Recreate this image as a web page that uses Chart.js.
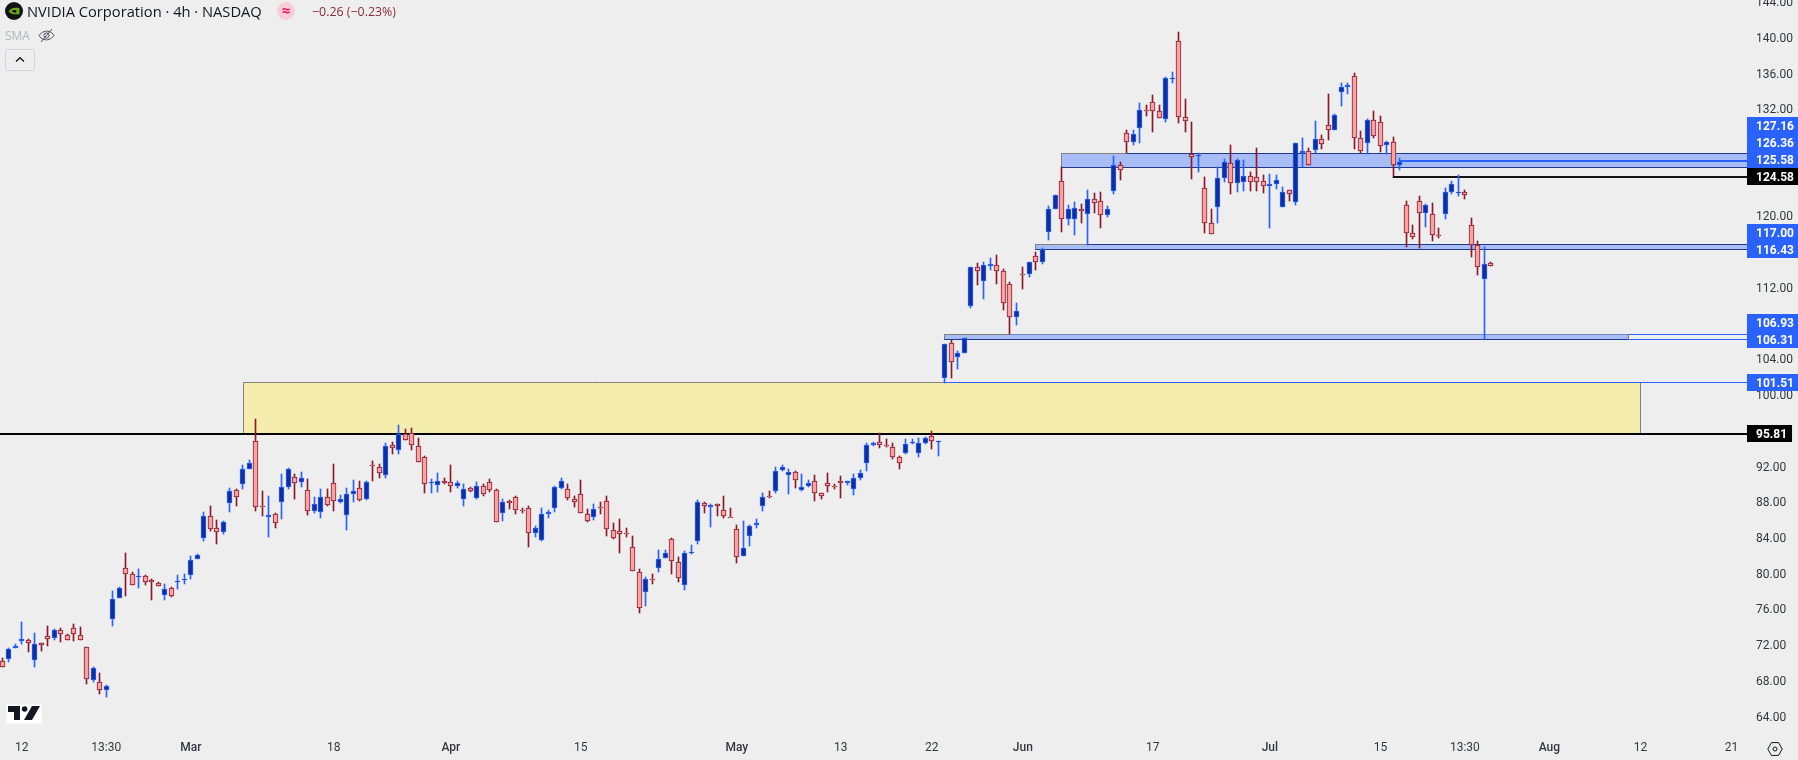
<!DOCTYPE html>
<html>
<head>
<meta charset="utf-8">
<title>NVIDIA Corporation 4h</title>
<script src="https://cdn.jsdelivr.net/npm/chart.js@4/dist/chart.umd.min.js"></script>
<style>
    html, body { margin: 0; padding: 0; background: #eeeeee; overflow: hidden; }
    #wrap { position: relative; width: 1798px; height: 760px; font-family: "Open Sans", sans-serif; }
    canvas { display: block; }
    .abs { position: absolute; white-space: nowrap; }
    #title { left: 27px; top: 0px; font-size: 14.7px; line-height: 22px; color: #131722; }
    #trend { left: 277px; top: 2px; width: 18px; height: 18px; border-radius: 50%; background: #f6cdd8; color: #e91e63; font-size: 15px; line-height: 17px; text-align: center; font-weight: 700; }
    #change { left: 312px; top: 1px; font-size: 12.4px; line-height: 22px; color: #8c2a3a; }
    #sma { left: 5px; top: 27px; font-size: 12px; line-height: 18px; color: #b2b5be; }
    #collapse { left: 5px; top: 49px; width: 28px; height: 20px; border: 1px solid #d1d4dc; border-radius: 3px; }
</style>
</head>
<body>
<div id="wrap">
    <canvas id="priceChart" width="1798" height="760"></canvas>
    <svg class="abs" style="left:5px;top:2px" width="18" height="18" viewBox="0 0 18 18">
        <circle cx="9" cy="9" r="9" fill="#0f1413"/>
        <path d="M3.5 9.5 C6 5.8 10 5.2 14.5 6.2 L14.5 12.3 L8.5 12.3 C6.5 12 5 11 3.5 9.5Z" fill="#6fa51a"/>
        <path d="M6.5 9.3 C8 8 10 7.8 11.7 8.5 L11 10.6 C9.3 10.8 8 10.4 6.5 9.3Z" fill="#0f1413"/>
    </svg>
    <div class="abs" id="title">NVIDIA Corporation · 4h · NASDAQ</div>
    <div class="abs" id="trend">≈</div>
    <div class="abs" id="change">−0.26 (−0.23%)</div>
    <div class="abs" id="sma">SMA</div>
    <svg class="abs" style="left:38px;top:27px" width="17" height="17" viewBox="0 0 17 17" fill="none" stroke="#4a4e59" stroke-width="1">
        <path d="M1 8.5 C4 4.5 8 3.5 11 4.5 C13 5 15 6.5 16 8.5 C13 12.5 9 13.5 6 12.5 C4 12 2 10.5 1 8.5Z"/>
        <circle cx="8.5" cy="8.5" r="2.6"/>
        <path d="M3 15 L14 2"/>
    </svg>
    <div class="abs" id="collapse">
        <svg style="position:absolute;left:9px;top:6px" width="10" height="7" viewBox="0 0 10 7" fill="none" stroke="#131722" stroke-width="1.4"><path d="M1 5.5 L5 1.8 L9 5.5"/></svg>
    </div>
    <svg class="abs" style="left:6px;top:704px" width="36" height="20" viewBox="0 0 36 20">
        <rect x="0.5" y="0.5" width="35" height="19" fill="#ffffff"/>
        <path d="M2 2 H14 V16 H8 V8 H2Z" fill="#131722"/>
        <circle cx="18.6" cy="5" r="2.8" fill="#131722"/>
        <path d="M26 2 H34 L26 16 H18Z" fill="#131722"/>
    </svg>
    <svg class="abs" style="left:1767px;top:741px" width="16" height="16" viewBox="0 0 16 16" fill="none" stroke="#131722" stroke-width="1">
        <path d="M0.8 8 L4.4 1.6 H11.6 L15.2 8 L11.6 14.4 H4.4Z"/>
        <circle cx="8" cy="8" r="2"/>
    </svg>
</div>

<script>
// values, one entry per 4h candle
const opens = [
    70.38, 70.53, 71.76, 72.62, 72.73, 70.42, 72.32, 73.18, 72.88, 73.85,
    73.29, 74.08, 73.29, 71.95, 68.26, 68.03, 67.06, 75.01, 77.36, 80.79,
    80.05, 79.71, 79.82, 79.37, 79.11, 77.70, 78.48, 79.15, 79.49, 80.01,
    81.72, 84.15, 86.61, 85.27, 84.82, 87.99, 89.45, 90.12, 91.87, 95.01,
    87.66, 86.43, 86.76, 88.10, 89.86, 90.98, 90.34, 89.52, 87.17, 86.99,
    88.74, 90.31, 88.18, 86.65, 89.07, 89.75, 88.44, 92.28, 92.10, 91.13,
    94.48, 94.00, 95.72, 95.83, 94.45, 93.14, 90.23, 90.01, 90.53, 90.34,
    89.90, 88.44, 89.67, 88.55, 89.97, 90.42, 89.45, 86.87, 88.22, 88.66,
    87.25, 87.43, 84.63, 83.93, 86.76, 87.43, 89.75, 89.63, 88.51, 89.07,
    86.84, 86.50, 87.54, 88.29, 85.05, 84.93, 84.63, 83.14, 80.34, 78.11,
    79.52, 80.79, 81.91, 83.96, 81.46, 78.89, 82.47, 83.81, 88.07, 87.62,
    87.88, 87.21, 86.50, 85.16, 82.06, 84.37, 85.53, 87.73, 88.78, 89.41,
    91.69, 91.13, 91.54, 89.45, 89.90, 90.53, 89.19, 90.31, 89.90, 90.45,
    90.23, 89.56, 90.87, 92.47, 94.48, 94.89, 94.48, 94.34, 93.22, 93.66,
    94.82, 93.59, 94.78, 95.49, 94.89, 101.99, 105.90, 104.41, 104.79, 110.12,
    114.41, 112.92, 114.60, 114.64, 113.96, 112.51, 108.89, 113.63, 113.63, 115.64,
    115.05, 118.33, 120.91, 124.04, 119.79, 119.79, 120.91, 120.35, 122.03, 121.80,
    120.24, 123.00, 125.83, 129.41, 128.41, 129.97, 132.03, 132.88, 131.88, 131.06,
    135.53, 139.71, 131.21, 127.10, 126.84, 123.26, 119.34, 121.13, 124.38, 126.06,
    123.82, 124.00, 124.60, 124.49, 124.04, 123.48, 123.71, 121.13, 123.03, 121.69,
    127.18, 127.40, 127.51, 128.74, 130.31, 129.75, 134.00, 134.56, 135.79, 128.85,
    128.29, 130.87, 130.64, 128.07, 128.40, 125.90, 121.35, 118.22, 121.80, 120.46,
    120.35, 118.00, 120.35, 122.81, 122.77, 122.81, 119.11, 116.88, 113.07, 114.86
];
const highs = [
    70.64, 71.84, 72.25, 74.71, 72.81, 73.44, 72.40, 74.26, 73.93, 74.00,
    73.33, 74.49, 74.11, 71.95, 69.67, 68.96, 67.62, 78.14, 78.59, 82.40,
    80.31, 80.61, 79.93, 79.49, 79.22, 78.96, 78.59, 79.97, 80.05, 82.10,
    82.28, 86.99, 87.66, 86.09, 85.98, 89.67, 89.56, 92.25, 92.81, 97.43,
    89.37, 88.81, 86.87, 91.28, 91.91, 91.24, 91.50, 90.68, 88.70, 89.56,
    89.56, 92.40, 88.96, 89.67, 90.60, 90.45, 90.45, 92.69, 92.36, 94.71,
    94.82, 96.76, 96.28, 96.39, 95.27, 93.29, 90.68, 91.39, 90.79, 92.28,
    90.45, 90.12, 89.78, 90.34, 90.12, 90.68, 89.56, 88.44, 88.37, 88.78,
    87.47, 87.69, 85.46, 87.47, 87.21, 89.93, 90.79, 90.12, 88.78, 90.60,
    87.32, 87.88, 88.14, 88.78, 85.75, 86.24, 85.23, 84.30, 80.61, 79.71,
    80.05, 82.77, 82.73, 84.11, 81.99, 82.62, 83.29, 88.37, 88.18, 87.92,
    87.92, 88.78, 87.43, 85.53, 86.02, 85.60, 86.20, 89.11, 89.37, 92.02,
    92.25, 91.80, 91.65, 91.24, 90.57, 91.13, 89.19, 91.39, 90.16, 91.05,
    90.49, 91.24, 91.69, 94.71, 94.82, 95.83, 95.16, 94.71, 93.25, 95.16,
    95.16, 95.27, 95.45, 96.05, 94.93, 105.87, 106.28, 105.05, 106.46, 114.41,
    114.90, 115.01, 115.46, 115.79, 114.22, 112.77, 110.38, 114.45, 114.97, 116.09,
    116.58, 121.24, 122.48, 125.68, 121.36, 121.73, 121.50, 123.07, 122.74, 122.85,
    121.28, 126.88, 126.21, 129.75, 129.75, 132.77, 132.59, 133.71, 132.59, 135.72,
    136.28, 140.72, 133.26, 130.68, 127.18, 124.53, 120.95, 125.65, 126.54, 128.11,
    126.54, 126.43, 125.09, 127.77, 124.75, 124.86, 124.75, 123.37, 123.03, 128.30,
    128.89, 127.77, 130.80, 129.19, 133.82, 131.58, 135.05, 135.05, 136.13, 129.67,
    131.02, 131.91, 131.35, 128.55, 129.00, 126.65, 121.84, 119.15, 122.40, 121.50,
    121.58, 118.82, 123.26, 124.08, 124.75, 123.07, 119.93, 117.36, 116.69, 115.01
];
const lows = [
    69.64, 70.23, 71.76, 72.25, 71.35, 69.71, 71.50, 72.02, 72.73, 72.51,
    72.66, 72.62, 72.66, 67.81, 68.03, 66.65, 66.35, 74.30, 77.36, 77.66,
    78.81, 78.55, 78.89, 77.17, 78.70, 77.17, 77.51, 78.44, 79.00, 79.52,
    81.72, 83.81, 84.90, 83.44, 84.56, 87.02, 87.69, 89.60, 91.80, 87.13,
    86.57, 84.22, 85.27, 86.24, 89.60, 88.48, 89.82, 86.69, 86.91, 86.35,
    87.69, 87.13, 88.03, 85.01, 88.14, 88.25, 88.40, 90.49, 90.87, 90.87,
    93.51, 93.51, 95.04, 93.96, 92.58, 89.19, 89.19, 89.30, 90.16, 89.30,
    89.75, 87.73, 89.30, 88.51, 88.81, 89.30, 85.87, 86.02, 87.36, 86.84,
    86.95, 83.10, 84.22, 83.81, 86.39, 87.02, 89.60, 88.37, 87.58, 86.87,
    85.94, 86.16, 86.84, 84.34, 84.04, 82.43, 84.22, 80.38, 75.75, 76.50,
    79.00, 80.31, 81.87, 80.12, 79.19, 78.29, 82.36, 83.44, 86.91, 85.34,
    86.57, 86.35, 86.43, 81.31, 82.06, 83.22, 85.27, 87.13, 88.63, 89.15,
    91.65, 89.04, 89.71, 89.41, 89.86, 88.25, 88.51, 89.30, 89.60, 88.59,
    90.04, 88.93, 90.64, 91.61, 94.45, 94.22, 94.34, 92.95, 91.84, 93.51,
    94.60, 93.22, 94.67, 94.07, 93.29, 101.43, 102.02, 103.03, 104.79, 109.90,
    112.43, 110.87, 114.11, 112.55, 109.64, 106.91, 107.96, 111.99, 113.33, 114.11,
    114.78, 117.48, 120.91, 118.37, 119.15, 118.04, 119.38, 116.92, 120.50, 118.82,
    120.05, 122.62, 124.19, 127.18, 128.11, 128.33, 131.35, 129.56, 131.09, 130.68,
    135.05, 130.57, 129.56, 124.30, 125.09, 118.26, 118.11, 119.38, 123.97, 122.62,
    122.85, 122.96, 122.96, 122.96, 122.74, 118.82, 123.18, 121.13, 121.84, 121.39,
    125.65, 125.83, 127.18, 127.66, 128.67, 129.75, 132.47, 133.81, 127.66, 127.17,
    127.14, 128.89, 127.32, 127.14, 124.64, 125.31, 116.69, 117.58, 116.58, 118.93,
    117.36, 117.70, 119.82, 122.62, 122.40, 122.06, 115.57, 113.56, 106.35, 114.53
];
const closes = [
    69.64, 71.73, 72.06, 72.77, 72.32, 72.28, 72.17, 72.84, 73.85, 73.33,
    72.66, 73.33, 72.66, 68.29, 69.52, 67.06, 67.51, 77.32, 78.55, 80.05,
    78.81, 79.82, 79.15, 79.19, 78.70, 78.44, 77.66, 79.34, 79.52, 81.69,
    82.25, 86.61, 85.16, 84.82, 85.94, 89.41, 88.74, 91.87, 92.54, 87.62,
    87.62, 86.72, 85.83, 89.86, 91.87, 90.31, 90.87, 87.17, 87.96, 88.74,
    87.77, 88.22, 88.44, 89.07, 89.34, 88.40, 90.34, 92.25, 91.43, 94.45,
    94.22, 95.72, 95.04, 94.48, 92.58, 90.12, 90.34, 90.53, 90.23, 89.90,
    90.31, 89.63, 89.41, 89.97, 89.00, 89.45, 85.87, 88.18, 87.99, 87.21,
    87.17, 84.63, 85.27, 86.84, 87.06, 89.78, 90.53, 88.55, 88.18, 86.87,
    85.98, 87.40, 87.50, 85.08, 84.07, 84.60, 84.60, 80.38, 76.24, 79.49,
    79.45, 81.80, 82.47, 81.50, 79.67, 82.47, 82.58, 88.10, 87.73, 87.84,
    87.73, 86.61, 86.43, 82.02, 83.03, 85.49, 85.83, 88.74, 88.70, 91.65,
    92.10, 91.54, 90.57, 89.86, 90.31, 89.19, 88.78, 89.90, 89.86, 90.23,
    90.45, 90.87, 91.35, 94.48, 94.71, 94.48, 94.45, 93.14, 92.47, 94.67,
    94.89, 94.78, 95.34, 94.93, 94.93, 105.87, 103.78, 104.79, 106.46, 114.41,
    114.04, 114.64, 114.78, 113.96, 110.46, 108.89, 109.49, 113.59, 114.97, 115.05,
    116.43, 120.91, 122.48, 119.79, 120.91, 121.02, 120.76, 122.03, 121.58, 120.24,
    120.91, 125.83, 125.27, 128.41, 129.30, 131.99, 131.99, 131.88, 131.09, 135.57,
    135.61, 131.21, 130.83, 126.80, 126.95, 119.34, 118.11, 124.38, 126.17, 123.82,
    126.39, 124.60, 123.93, 124.00, 123.48, 123.71, 124.15, 122.89, 122.59, 128.30,
    127.40, 125.83, 128.74, 128.18, 129.75, 131.43, 134.56, 134.78, 128.85, 127.40,
    130.87, 129.08, 128.03, 128.40, 125.90, 126.24, 118.22, 117.77, 120.46, 121.35,
    118.00, 117.96, 122.81, 123.70, 122.81, 122.47, 116.88, 114.41, 114.75, 114.53
];

const priceTicks = [64, 68, 72, 76, 80, 84, 88, 92, 96, 100, 104, 108, 112, 116, 120, 124, 128, 132, 136, 140, 144];
const timeTickBars = [3, 16, 29, 51, 69, 89, 113, 129, 143, 157, 177, 195, 212, 225, 238, 252, 266];
const timeTickLabels = ['12', '13:30', 'Mar', '18', 'Apr', '15', 'May', '13', '22', 'Jun', '17', 'Jul', '15', '13:30', 'Aug', '12', '21'];
const monthLabels = ['Mar', 'Apr', 'May', 'Jun', 'Jul', 'Aug'];

// price levels marked on the right axis, top to bottom
const axisLevels = [127.16, 126.36, 125.58, 124.58, 117.00, 116.43, 106.93, 106.31, 101.51, 95.81];
const blackLevels = [124.58, 95.81];

// zones: [lower, upper] price, first bar, last bar (null runs to the axis), bar where the grey top edge stops
const zoneLows = [106.31, 116.43, 125.58];
const zoneHighs = [106.93, 117.00, 127.16];
const zoneFirstBars = [144.9, 158.9, 162.9];
const zoneLastBars = [250.1, null, null];
const zoneGreyUntil = [155, 167, 173];

// yellow supply box
const boxLow = 95.81;
const boxHigh = 101.51;
const boxFirstBar = 37.1;
const boxLastBar = 252;

// horizontal rays: price and the bar they start from
const rayPrices = [95.81, 124.58, 126.36, 101.51, 106.93, 106.31];
const rayFirstBars = [-1, 213.9, 215, 145, 155, 145];
const rayWidths = [2, 2, 2, 1, 1, 1];
const rayColors = ['#000000', '#131313', '#2962ff', '#2962ff', '#2962ff', '#2962ff'];

const BLUE = '#2962ff';
const BLUE_FILL = '#0f2f9e';
const RED = '#8c1a2b';
const RED_FILL = '#f7a3a3';
const ZONE_FILL = '#a8bdf5';
const ZONE_EDGE = '#1f3a8a';
const GREY_EDGE = '#808080';
const YELLOW_FILL = '#f5edad';

const isUp = (i) => closes[i] >= opens[i];
const wickData = highs.map((h, i) => ({ x: i, y: [lows[i], h] }));
const bodyData = opens.map((o, i) => ({ x: i, y: [Math.min(o, closes[i]), Math.max(o, closes[i])] }));

// TradingView snaps candles to whole pixels, so do the same here
const snapCandles = {
    id: 'snapCandles',
    afterDatasetsUpdate(chart) {
        chart.data.datasets.forEach((ds, d) => {
            chart.getDatasetMeta(d).data.forEach((bar) => {
                const top = Math.round(bar.y);
                let base = Math.round(bar.base);
                if (base === top) base = top + 1;
                bar.x = Math.floor(bar.x) + 0.5;
                bar.y = top;
                bar.base = base;
            });
        });
    }
};

const crisp = (y) => Math.round(y - 0.5) + 0.5;

function hLine(ctx, x1, x2, y, color, width) {
    ctx.strokeStyle = color;
    ctx.lineWidth = width;
    ctx.beginPath();
    const py = width % 2 ? crisp(y) : Math.round(y);
    ctx.moveTo(x1, py);
    ctx.lineTo(x2, py);
    ctx.stroke();
}

function vLine(ctx, x, y1, y2, color) {
    ctx.strokeStyle = color;
    ctx.lineWidth = 1;
    ctx.beginPath();
    ctx.moveTo(crisp(x), y1);
    ctx.lineTo(crisp(x), y2);
    ctx.stroke();
}

// zones and rays sit under the candles
const drawings = {
    id: 'drawings',
    beforeDatasetsDraw(chart) {
        const { ctx, scales: { x, y }, chartArea } = chart;
        const barX = (bar) => (bar === null ? chartArea.right : x.getPixelForValue(bar));
        ctx.save();

        const bx1 = barX(boxFirstBar), bx2 = barX(boxLastBar);
        const by1 = y.getPixelForValue(boxHigh), by2 = y.getPixelForValue(boxLow);
        ctx.fillStyle = YELLOW_FILL;
        ctx.fillRect(bx1, by1, bx2 - bx1, by2 - by1);

        zoneLows.forEach((low, i) => {
            const x1 = barX(zoneFirstBars[i]), x2 = barX(zoneLastBars[i]);
            const y1 = y.getPixelForValue(zoneHighs[i]), y2 = y.getPixelForValue(low);
            ctx.fillStyle = ZONE_FILL;
            ctx.fillRect(x1, y1, x2 - x1, y2 - y1);
        });

        hLine(ctx, bx1, bx2, by1, GREY_EDGE, 1);
        vLine(ctx, bx1, by1, by2, GREY_EDGE);
        vLine(ctx, bx2, by1, by2, GREY_EDGE);
        hLine(ctx, bx1, bx2, by2, '#6b6420', 1);

        rayPrices.forEach((price, i) => {
            hLine(ctx, Math.max(barX(rayFirstBars[i]), 0), chartArea.right, y.getPixelForValue(price), rayColors[i], rayWidths[i]);
        });

        zoneLows.forEach((low, i) => {
            const x1 = barX(zoneFirstBars[i]), x2 = barX(zoneLastBars[i]);
            const y1 = y.getPixelForValue(zoneHighs[i]), y2 = y.getPixelForValue(low);
            const greyEnd = barX(zoneGreyUntil[i]);
            hLine(ctx, greyEnd, x2, y1, i === 0 ? '#6f84c8' : ZONE_EDGE, 1);
            hLine(ctx, x1, greyEnd, y1, GREY_EDGE, 1);
            vLine(ctx, x1, y1, y2, GREY_EDGE);
            if (zoneLastBars[i] !== null) vLine(ctx, x2, y1, y2, GREY_EDGE);
            hLine(ctx, x1, x2, y2, ZONE_EDGE, 1);
        });
        ctx.restore();
    }
};

// value tags on the price axis, pushed upward when they would overlap
const axisTags = {
    id: 'axisTags',
    afterDraw(chart) {
        const { ctx, scales: { y }, chartArea } = chart;
        const tagHeight = 17;
        ctx.save();
        ctx.font = 'bold 12px Roboto, sans-serif';
        ctx.textBaseline = 'middle';
        ctx.textAlign = 'left';
        let above = Infinity;
        for (let i = axisLevels.length - 1; i >= 0; i--) {
            const level = axisLevels[i];
            const cy = Math.min(y.getPixelForValue(level), above - tagHeight);
            const text = level.toFixed(2);
            ctx.fillStyle = blackLevels.includes(level) ? '#000000' : BLUE;
            ctx.fillRect(chartArea.right, Math.round(cy - tagHeight / 2), 9 + ctx.measureText(text).width + 5, tagHeight);
            ctx.fillStyle = '#ffffff';
            ctx.fillText(text, chartArea.right + 9, Math.round(cy - tagHeight / 2) + tagHeight / 2 + 1);
            above = cy;
        }
        ctx.restore();
    }
};

// no room kept for half-labels at the scale ends, the plot fills the canvas
function noScalePadding(scale) {
    scale.paddingTop = 0;
    scale.paddingBottom = 0;
    scale.paddingLeft = 0;
    scale.paddingRight = 0;
}

new Chart(document.getElementById('priceChart').getContext('2d'), {
    type: 'bar',
    data: {
        datasets: [
            {
                label: 'Body',
                data: bodyData,
                barThickness: 5,
                grouped: false,
                borderWidth: 1,
                borderSkipped: false,
                borderColor: opens.map((o, i) => (isUp(i) ? BLUE : RED)),
                backgroundColor: opens.map((o, i) => (isUp(i) ? BLUE_FILL : RED_FILL)),
                order: 1
            },
            {
                label: 'Wick',
                data: wickData,
                barThickness: 1,
                grouped: false,
                borderWidth: 0,
                borderSkipped: false,
                backgroundColor: opens.map((o, i) => (isUp(i) ? BLUE : RED)),
                order: 2
            }
        ]
    },
    options: {
        responsive: false,
        animation: false,
        events: [],
        layout: { padding: 0 },
        plugins: { legend: { display: false }, tooltip: { enabled: false }, title: { display: false } },
        scales: {
            x: {
                type: 'linear',
                offset: false,
                min: -0.354,
                max: 268.4,
                grid: { display: false, drawTicks: false },
                border: { display: false },
                afterBuildTicks(scale) { scale.ticks = timeTickBars.map((value) => ({ value })); },
                afterFit(scale) { scale.height = 25; noScalePadding(scale); },
                ticks: {
                    autoSkip: false,
                    maxRotation: 0,
                    padding: 6,
                    color: '#333740',
                    font: (ctx) => ({
                        family: 'Roboto, sans-serif',
                        size: 12,
                        weight: monthLabels.includes(timeTickLabels[ctx.index]) ? '500' : '400'
                    }),
                    callback: (value) => timeTickLabels[timeTickBars.indexOf(value)]
                }
            },
            y: {
                position: 'right',
                beginAtZero: false,
                min: 62.06,
                max: 144.34,
                grid: { display: false, drawTicks: false },
                border: { display: false },
                afterBuildTicks(scale) { scale.ticks = priceTicks.map((value) => ({ value })); },
                afterFit(scale) { scale.width = 51; noScalePadding(scale); },
                ticks: {
                    autoSkip: false,
                    padding: 9,
                    color: '#333740',
                    font: { family: 'Roboto, sans-serif', size: 12 },
                    callback: (value) => value.toFixed(2)
                }
            }
        }
    },
    plugins: [snapCandles, drawings, axisTags]
});
</script>
</body>
</html>
